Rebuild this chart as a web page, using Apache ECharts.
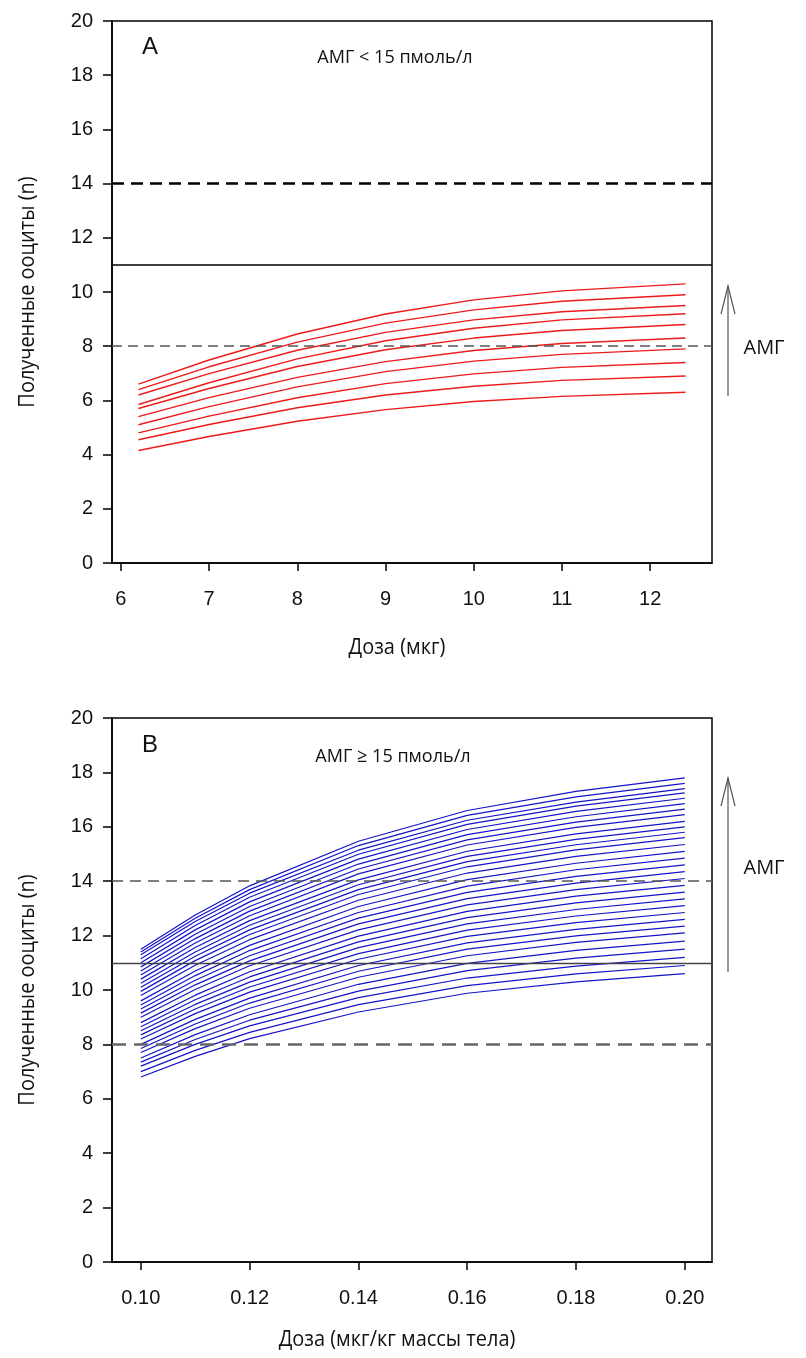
<!DOCTYPE html>
<html>
<head>
<meta charset="utf-8">
<script src="https://cdn.jsdelivr.net/npm/echarts@6/dist/echarts.min.js"></script>
<style>
html,body{margin:0;padding:0;background:#fff;}
#chart{width:806px;height:1358px;}
</style>
</head>
<body>
<div id="chart"></div>
<script>
// ---------- Panel A data ----------
var doseA = [6.2, 7, 8, 9, 10, 11, 12.4];
var curvesA = [
  [6.6, 7.49, 8.45, 9.19, 9.71, 10.04, 10.3],
  [6.4, 7.24, 8.15, 8.85, 9.34, 9.66, 9.9],
  [6.2, 6.99, 7.85, 8.51, 8.97, 9.27, 9.5],
  [5.85, 6.65, 7.53, 8.2, 8.66, 8.97, 9.2],
  [5.7, 6.44, 7.25, 7.87, 8.3, 8.58, 8.8],
  [5.4, 6.10, 6.85, 7.43, 7.84, 8.1, 8.3],
  [5.1, 5.77, 6.5, 7.06, 7.45, 7.7, 7.9],
  [4.8, 5.42, 6.1, 6.62, 6.98, 7.22, 7.4],
  [4.55, 5.11, 5.73, 6.2, 6.52, 6.74, 6.9],
  [4.15, 4.67, 5.23, 5.66, 5.96, 6.15, 6.3]
];
var xTicksA = [6, 7, 8, 9, 10, 11, 12];
var refLinesA = [14, 11, 8];

// ---------- Panel B data ----------
var doseB = [0.10, 0.11, 0.12, 0.14, 0.16, 0.18, 0.20];
var curvesB = [
  [6.8, 7.56, 8.21, 9.19, 9.88, 10.3, 10.6],
  [7.0, 7.78, 8.44, 9.46, 10.16, 10.59, 10.9],
  [7.2, 8.0, 8.68, 9.72, 10.44, 10.88, 11.2],
  [7.35, 8.18, 8.89, 9.96, 10.71, 11.17, 11.5],
  [7.5, 8.36, 9.09, 10.21, 10.98, 11.46, 11.8],
  [7.7, 8.58, 9.33, 10.47, 11.26, 11.75, 12.1],
  [7.85, 8.75, 9.52, 10.69, 11.5, 11.99, 12.35],
  [8.0, 8.92, 9.7, 10.9, 11.73, 12.23, 12.6],
  [8.2, 9.13, 9.92, 11.13, 11.97, 12.48, 12.85],
  [8.35, 9.3, 10.11, 11.34, 12.2, 12.72, 13.1],
  [8.5, 9.47, 10.29, 11.56, 12.43, 12.96, 13.35],
  [8.65, 9.64, 10.48, 11.77, 12.66, 13.2, 13.6],
  [8.8, 9.81, 10.67, 11.98, 12.89, 13.45, 13.85],
  [9.0, 10.02, 10.89, 12.21, 13.13, 13.69, 14.1],
  [9.15, 10.19, 11.07, 12.43, 13.36, 13.93, 14.35],
  [9.3, 10.36, 11.26, 12.64, 13.59, 14.18, 14.6],
  [9.45, 10.53, 11.45, 12.85, 13.82, 14.42, 14.85],
  [9.6, 10.7, 11.64, 13.07, 14.06, 14.66, 15.1],
  [9.8, 10.91, 11.85, 13.3, 14.3, 14.91, 15.35],
  [9.95, 11.08, 12.04, 13.51, 14.53, 15.15, 15.6],
  [10.1, 11.24, 12.21, 13.69, 14.72, 15.34, 15.8],
  [10.25, 11.4, 12.38, 13.87, 14.91, 15.54, 16.0],
  [10.4, 11.56, 12.55, 14.05, 15.1, 15.74, 16.2],
  [10.55, 11.73, 12.73, 14.27, 15.33, 15.98, 16.45],
  [10.7, 11.89, 12.9, 14.45, 15.52, 16.17, 16.65],
  [10.85, 12.05, 13.07, 14.63, 15.71, 16.37, 16.85],
  [11.0, 12.21, 13.24, 14.81, 15.9, 16.57, 17.05],
  [11.15, 12.37, 13.41, 14.99, 16.09, 16.76, 17.25],
  [11.3, 12.52, 13.56, 15.14, 16.24, 16.91, 17.4],
  [11.4, 12.64, 13.69, 15.31, 16.42, 17.1, 17.6],
  [11.5, 12.76, 13.83, 15.47, 16.6, 17.3, 17.8]
];
var xTicksB = [0.10, 0.12, 0.14, 0.16, 0.18, 0.20];
var refLinesB = [14, 11, 8];

// ---------- texts ----------
var yTitle = 'Полученные ооциты (n)';
var xTitleA = 'Доза (мкг)';
var xTitleB = 'Доза (мкг/кг массы тела)';
var noteA = 'АМГ < 15 пмоль/л';
var noteB = 'АМГ ≥ 15 пмоль/л';
var panelA = 'A';
var panelB = 'B';
var arrowLabel = 'АМГ';

var numFont = '"Liberation Sans", Arial, sans-serif';
var txtFont = '"Open Sans", "Noto Sans", sans-serif';

function xAxisCfg(gi, min, max, ticks, fmt) {
  return {
    type: 'value', gridIndex: gi, min: min, max: max,
    splitLine: {show: false},
    axisLine: {show: true, onZero: false, lineStyle: {color: '#000', width: 1.5}},
    axisTick: {show: true, inside: false, length: 8, customValues: ticks, lineStyle: {color: '#000', width: 1.5}},
    axisLabel: {show: true, customValues: ticks, margin: 26, fontSize: 20, color: '#111', fontFamily: numFont,
      formatter: fmt},
    minorTick: {show: false}
  };
}
function yAxisCfg(gi) {
  return {
    type: 'value', gridIndex: gi, min: 0, max: 20, interval: 2,
    splitLine: {show: false},
    axisLine: {show: true, onZero: false, lineStyle: {color: '#000', width: 1.5}},
    axisTick: {show: true, inside: false, length: 9, lineStyle: {color: '#000', width: 1.5}},
    axisLabel: {show: true, margin: 19, fontSize: 20, color: '#111', fontFamily: numFont}
  };
}

var series = [];
curvesA.forEach(function (c) {
  series.push({
    type: 'line', xAxisIndex: 0, yAxisIndex: 0, symbol: 'none', silent: true,
    smooth: false,
    lineStyle: {color: '#ee1a1a', width: 1.4},
    data: doseA.map(function (x, i) { return [x, c[i]]; })
  });
});
curvesB.forEach(function (c) {
  series.push({
    type: 'line', xAxisIndex: 1, yAxisIndex: 1, symbol: 'none', silent: true,
    smooth: false,
    lineStyle: {color: '#1414c8', width: 1.2},
    data: doseB.map(function (x, i) { return [x, c[i]]; })
  });
});

var styleA = [
  {color: '#000', width: 2.5, type: [12, 7]},
  {color: '#000', width: 1.5, type: 'solid'},
  {color: '#555', width: 1.5, type: [10, 6]}
];
var styleB = [
  {color: '#555', width: 1.5, type: [11, 7]},
  {color: '#444', width: 1.3, type: 'solid'},
  {color: '#666', width: 2.5, type: [14, 8]}
];
series.push({
  type: 'line', xAxisIndex: 0, yAxisIndex: 0, data: [], silent: true,
  markLine: {symbol: 'none', silent: true, label: {show: false}, animation: false,
    data: refLinesA.map(function (v, i) { return {yAxis: v, lineStyle: styleA[i]}; })}
});
series.push({
  type: 'line', xAxisIndex: 1, yAxisIndex: 1, data: [], silent: true,
  markLine: {symbol: 'none', silent: true, label: {show: false}, animation: false,
    data: refLinesB.map(function (v, i) { return {yAxis: v, lineStyle: styleB[i]}; })}
});

function arrow(x, y1, y2) {
  return [
    {type: 'polyline', silent: true, shape: {points: [[x, y1], [x, y2]]}, style: {stroke: '#777', lineWidth: 1.5, fill: null}},
    {type: 'polyline', silent: true, shape: {points: [[x - 7, y2 + 28], [x, y2], [x + 7, y2 + 28]]}, style: {stroke: '#555', lineWidth: 1.2, fill: null}}
  ];
}
function txt(x, y, t, size, font, rot, sx) {
  return {type: 'text', silent: true, x: x, y: y, rotation: rot || 0, scaleX: sx || 1,
    style: {text: t, fill: '#111', font: size + 'px ' + font, textAlign: 'center', textVerticalAlign: 'middle'}};
}

var graphic = [].concat(
  arrow(728, 396, 286),
  arrow(728, 972, 778),
  [
    txt(150, 47, panelA, 24, numFont),
    txt(150, 745, panelB, 24, numFont),
    txt(395, 58, noteA, 19, txtFont, 0, 0.95),
    txt(393, 757, noteB, 19, txtFont, 0, 0.95),
    txt(764, 348, arrowLabel, 20, txtFont),
    txt(764, 868, arrowLabel, 20, txtFont),
    txt(397, 648, xTitleA, 21, txtFont, 0, 0.95),
    txt(397, 1340, xTitleB, 21, txtFont, 0, 0.95),
    txt(28, 292, yTitle, 21, txtFont, Math.PI / 2, 0.95),
    txt(28, 990, yTitle, 21, txtFont, Math.PI / 2, 0.95)
  ]
);

var chart = echarts.init(document.getElementById('chart'), null, {renderer: 'canvas'});
chart.setOption({
  animation: false,
  backgroundColor: '#fff',
  grid: [
    {left: 112, top: 21, width: 600, height: 542, show: true, borderColor: '#000', borderWidth: 1.5, backgroundColor: 'transparent'},
    {left: 112, top: 718, width: 600, height: 544, show: true, borderColor: '#000', borderWidth: 1.5, backgroundColor: 'transparent'}
  ],
  xAxis: [
    xAxisCfg(0, 5.9, 12.7, xTicksA, function (v) { return String(Math.round(v)); }),
    xAxisCfg(1, 0.0947, 0.205, xTicksB, function (v) { return v.toFixed(2); })
  ],
  yAxis: [yAxisCfg(0), yAxisCfg(1)],
  series: series,
  graphic: graphic
});
</script>
</body>
</html>
